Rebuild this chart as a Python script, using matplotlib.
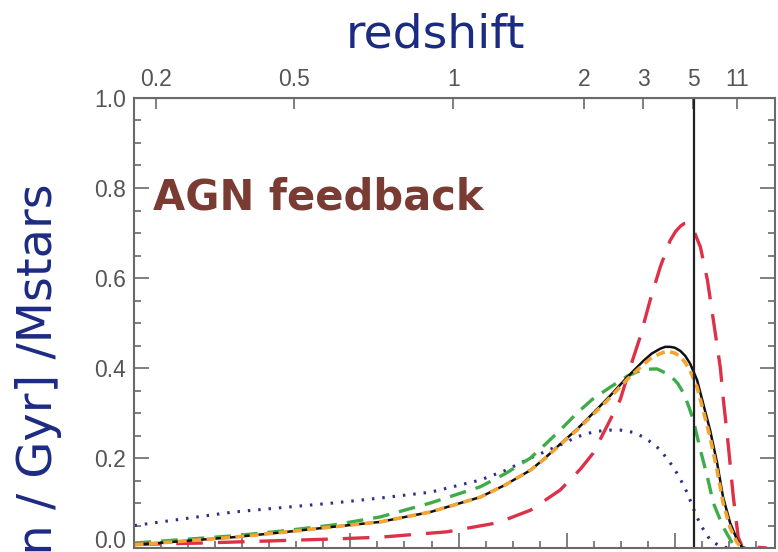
import matplotlib
matplotlib.use('Agg')
import matplotlib.pyplot as plt
import matplotlib.transforms as mtransforms
import numpy as np

# x = lookback time [Gyr], y = normalised star formation rate
t_blue = [2.01, 3.84, 5.68, 6.55, 7.48, 8.40, 8.86, 9.33, 9.88, 10.19, 10.49, 10.75, 10.99,
          11.23, 11.41, 11.57, 11.73, 11.97, 12.10, 12.23, 12.34, 12.47, 12.65, 12.84, 13.02]
y_blue = [0.050, 0.080, 0.100, 0.111, 0.124, 0.151, 0.172, 0.200, 0.229, 0.247, 0.258, 0.262, 0.262,
          0.257, 0.247, 0.234, 0.218, 0.180, 0.153, 0.122, 0.088, 0.052, 0.018, 0.003, 0.0]

t_black = [2.01, 3.84, 4.76, 5.68, 6.55, 7.48, 8.40, 8.86, 9.33, 9.60, 9.88, 10.19, 10.49, 10.80, 11.12,
           11.41, 11.57, 11.73, 11.82, 11.91, 12.00, 12.10, 12.19, 12.28, 12.41, 12.52, 12.65, 12.78,
           12.89, 13.02, 13.15, 13.24, 13.30]
y_black = [0.007, 0.024, 0.035, 0.047, 0.058, 0.080, 0.113, 0.140, 0.173, 0.200, 0.231, 0.264, 0.300, 0.338, 0.380,
           0.415, 0.432, 0.443, 0.447, 0.447, 0.445, 0.438, 0.427, 0.410, 0.373, 0.322, 0.262, 0.189,
           0.113, 0.056, 0.018, 0.002, 0.0]

t_orange = [2.01, 3.84, 4.76, 5.68, 6.55, 7.48, 8.40, 8.86, 9.33, 9.60, 9.88, 10.19, 10.49, 10.80, 11.12,
            11.41, 11.57, 11.73, 11.82, 11.91, 12.00, 12.10, 12.19, 12.28, 12.41, 12.52, 12.65, 12.78,
            12.89, 13.02, 13.15, 13.24]
y_orange = [0.007, 0.024, 0.035, 0.047, 0.058, 0.080, 0.113, 0.140, 0.173, 0.199, 0.230, 0.262, 0.297, 0.334, 0.375,
            0.407, 0.423, 0.432, 0.436, 0.436, 0.433, 0.425, 0.412, 0.394, 0.357, 0.307, 0.246, 0.172,
            0.100, 0.045, 0.012, 0.0]

t_green = [2.01, 3.84, 4.76, 5.68, 6.55, 7.48, 8.40, 8.86, 9.33, 9.60, 9.88, 10.19, 10.49, 10.80, 11.12,
           11.41, 11.67, 11.91, 12.05, 12.16, 12.26, 12.34, 12.47, 12.60, 12.71, 12.89, 13.06, 13.15]
y_green = [0.011, 0.027, 0.038, 0.051, 0.069, 0.100, 0.136, 0.165, 0.200, 0.230, 0.262, 0.300, 0.332, 0.357, 0.382,
           0.397, 0.398, 0.384, 0.366, 0.344, 0.313, 0.284, 0.218, 0.158, 0.100, 0.047, 0.011, 0.0]

t_red = [2.01, 3.23, 5.68, 6.55, 7.79, 8.72, 9.33, 9.88, 10.25, 10.49, 10.80, 10.99, 11.17, 11.36, 11.54,
         11.73, 11.91, 12.01, 12.10, 12.17, 12.23, 12.29, 12.34, 12.47, 12.60, 12.71, 12.84, 12.89, 12.99,
         13.08, 13.17, 13.24, 13.70]
y_red = [0.008, 0.011, 0.020, 0.024, 0.036, 0.056, 0.084, 0.129, 0.175, 0.211, 0.284, 0.330, 0.400, 0.470, 0.550,
         0.625, 0.683, 0.703, 0.715, 0.721, 0.722, 0.718, 0.708, 0.669, 0.596, 0.507, 0.400, 0.336, 0.224,
         0.113, 0.024, 0.004, 0.0]

# redshift ticks on the top axis (positions in lookback time)
z_pos = [2.41, 4.96, 7.90, 10.32, 11.41, 12.34, 13.15]
z_labels = ['0.2', '0.5', '1', '2', '3', '5', '11']
z_line = 12.35

navy = '#1c2b82'
brown = '#7a3b33'
axcol = '#6a6a6a'
tickfont = {'family': 'Liberation Sans', 'size': 16.5}

fig = plt.figure(figsize=(7.78, 5.52), dpi=100)
ax = fig.add_axes([134/778, 4/552, 641/778, 450/552])

ax.plot(t_blue, y_blue, color='#2b2f86', lw=2.2, dashes=(0.8, 2.6))
ax.plot(t_green, y_green, color='#3fac4a', lw=2.4, dashes=(5, 3))
ax.plot(t_red, y_red, color='#dc3148', lw=2.4, dashes=(8, 4.5))
ax.plot(t_black, y_black, color='#111111', lw=1.8)
ax.plot(t_orange, y_orange, color='#f2a535', lw=2.6, dashes=(2.5, 1.5))
ax.axvline(z_line, color='#222222', lw=1.6)

ax.set_xlim(2.0, 13.85)
ax.set_ylim(0, 1.0)
ax.set_yticks(np.arange(0, 1.01, 0.2))
ax.set_yticks(np.arange(0, 1.01, 0.05), minor=True)
ax.set_yticklabels(['0.0', '0.2', '0.4', '0.6', '0.8', '1.0'], fontdict=tickfont, color='#555555')
ax.set_xticks(np.arange(2, 14, 2))
ax.set_xticks(np.arange(2, 14, 0.5), minor=True)
ax.tick_params(axis='both', which='both', direction='in', color=axcol, width=1.2)
ax.tick_params(axis='y', which='both', left=True, right=True, pad=6)
ax.tick_params(axis='x', which='both', bottom=True, top=False, labelbottom=False)
ax.tick_params(which='major', length=11)
ax.tick_params(which='minor', length=5)
for s in ax.spines.values():
    s.set_color(axcol)
    s.set_linewidth(1.5)

# the bottom "0.0" label sits a little higher in the original
lab0 = ax.get_yticklabels()[0]
lab0.set_transform(lab0.get_transform() + mtransforms.ScaledTranslation(0, 6.5/72, fig.dpi_scale_trans))

top = ax.secondary_xaxis('top')
top.set_xticks(z_pos)
top.set_xticklabels(z_labels, fontdict=tickfont, color='#555555')
top.tick_params(direction='in', length=8, color=axcol, width=1.2, pad=5)
top.spines['top'].set_color(axcol)

fig.text(436/778, 1 - 47/552, 'redshift', color=navy, fontsize=34,
         ha='center', va='baseline', family='DejaVu Sans')
fig.text(153/778, 1 - 210/552, 'AGN feedback', color=brown, fontsize=30,
         fontweight='bold', ha='left', va='baseline', family='DejaVu Sans')
fig.text(15/778, 1 - 183/552, '[Msun / Gyr] /Mstars', color=navy, fontsize=34.5,
         rotation=90, ha='left', va='top', family='DejaVu Sans')

fig.savefig('out.png', dpi=100)
